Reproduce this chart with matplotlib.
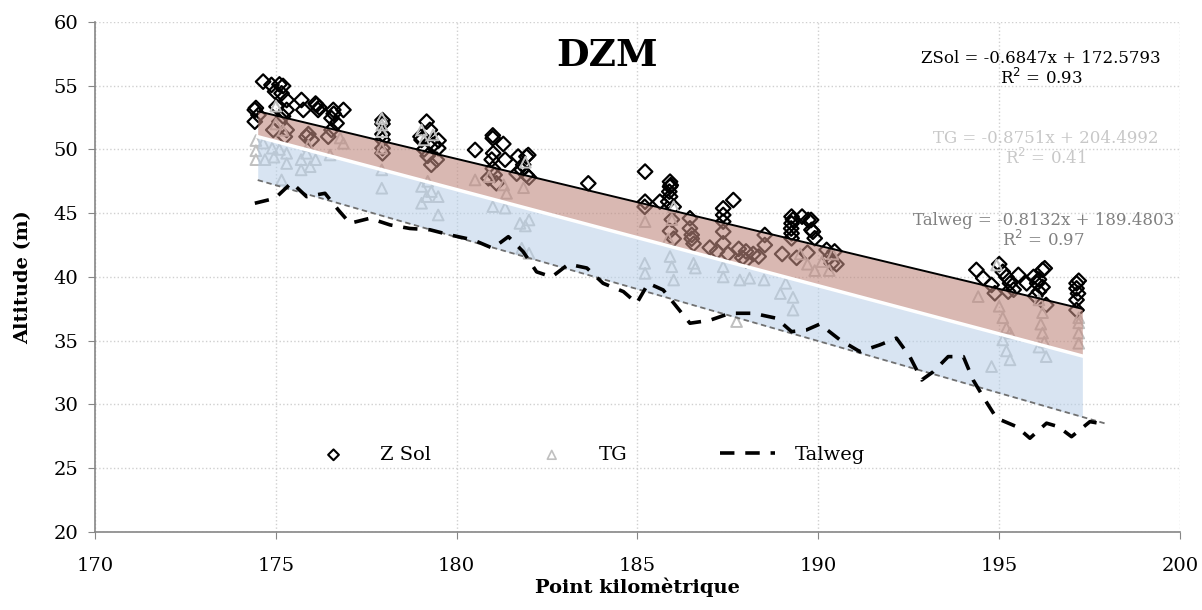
import numpy as np
import matplotlib
import matplotlib.pyplot as plt

matplotlib.use('Agg')

# Z Sol points (km, altitude)
zsol_x = [174.42, 174.52, 174.42, 174.45, 174.65, 174.88, 174.98, 175.2, 175.16, 175.1, 175.3, 175.3, 175.02, 175.1, 175.3, 174.93, 175.2, 175.25,
          175.71, 175.76, 176.13, 176.17, 176.2, 176.1, 175.85, 175.99, 175.9,
          176.59, 176.87, 176.54, 176.68, 176.45, 176.54, 176.6,
          177.95, 177.95, 177.95, 177.95, 177.95, 177.95,
          179.17, 179.26, 179.03, 179.35, 179.49, 179.45, 179.1, 179.2, 179.3, 179.0, 179.5,
          180.51, 181.0, 181.0, 181.29, 181.01, 181.34, 180.97, 181.1, 180.88, 181.0, 181.05,
          181.7, 181.93, 181.84, 181.66, 181.93, 181.98, 181.8, 182.0,
          183.64, 185.21, 185.21, 185.2,
          185.62, 185.9, 185.92, 185.9, 185.88, 185.9, 185.85, 186.0, 185.95, 185.9, 186.0,
          186.45, 186.45, 186.5, 186.5, 186.55,
          187.37, 187.37, 187.37, 187.37, 187.37, 187.65,
          187.0, 187.2, 187.5, 187.8, 188.0, 188.2, 188.35, 187.9, 188.0,
          188.52, 188.52,
          189.26, 189.26, 189.26, 189.26, 189.3, 189.25, 189.55, 189.8, 189.85, 189.9, 189.72, 189.81,
          190.23, 190.37, 190.3, 190.5, 190.45, 189.0, 189.4, 189.7,
          194.37, 194.56, 194.79, 194.88, 195.0, 195.1, 195.2, 195.3, 195.25, 195.53, 195.76, 195.4,
          195.95, 196.05, 196.1, 196.2, 196.26, 196.1, 196.2, 196.0, 196.3,
          197.14, 197.14, 197.14, 197.14, 197.2, 197.18]
zsol_y = [53.1, 52.7, 52.18, 53.25, 55.32, 55.06, 54.54, 54.98, 54.4, 55.1, 53.88, 53.1, 53.36, 52.18, 51.53, 51.53, 52.6, 51.0,
          53.88, 53.1, 53.49, 53.1, 53.3, 53.6, 51.0, 50.75, 51.2,
          53.1, 53.1, 52.45, 52.05, 51.0, 51.53, 52.8,
          52.3, 52.0, 51.2, 50.75, 50.1, 49.7,
          52.18, 51.53, 50.75, 50.35, 50.1, 49.2, 50.0, 49.5, 48.8, 51.0, 50.7,
          49.96, 50.88, 51.1, 50.43, 49.7, 49.2, 49.2, 47.35, 47.74, 48.5, 48.0,
          49.44, 49.44, 48.8, 48.1, 48.0, 49.56, 48.4, 47.8,
          47.34, 48.26, 45.9, 45.5,
          45.9, 47.47, 47.2, 47.08, 46.69, 46.3, 45.9, 45.5, 44.5, 43.6, 43.0,
          44.6, 43.81, 43.3, 43.0, 42.6,
          45.38, 44.86, 44.34, 43.55, 42.64, 46.03,
          42.3, 42.0, 41.8, 42.2, 42.0, 41.8, 41.6, 41.5, 41.3,
          43.29, 42.5,
          44.73, 44.2, 43.42, 43.03, 44.5, 43.8, 44.73, 44.47, 43.55, 43.03, 44.47, 43.69,
          42.12, 41.07, 41.5, 41.0, 42.0, 41.8, 41.5, 41.9,
          40.55, 39.9, 39.37, 38.72, 41.0, 40.4, 40.0, 39.5, 38.85, 40.16, 39.5, 39.0,
          40.0, 39.5, 38.85, 40.55, 40.68, 39.8, 39.2, 38.5, 37.8,
          39.5, 39.1, 38.2, 37.4, 39.7, 38.7]

# TG points
tg_x = [174.45, 174.45, 174.45, 174.65, 174.9, 174.95, 175.1, 175.3, 175.3, 174.7, 175.0, 175.16, 175.2, 175.0,
        175.7, 175.85, 175.95, 176.1, 175.7, 175.9,
        176.5, 176.87, 176.78,
        177.93, 177.93, 177.93, 177.93, 177.93, 177.93,
        179.03, 179.35, 179.1, 179.03, 179.17, 179.3, 179.49, 179.49, 179.03, 179.2,
        180.51, 180.9, 181.3, 181.0, 181.34, 181.38,
        181.75, 182.0, 181.9, 181.8, 182.0, 181.9, 181.85,
        185.21, 185.2, 185.21,
        185.9, 185.95, 186.0, 185.95, 186.0, 185.85,
        186.55, 186.6, 187.37, 187.37,
        187.83, 188.1, 187.74, 188.5,
        188.95, 189.3, 189.3, 189.1,
        189.5, 189.7, 189.9, 190.1, 190.3, 190.4,
        194.42, 194.93, 195.0, 195.1, 195.2, 195.3, 195.1, 195.2, 194.79, 195.3,
        196.1, 196.2, 196.15, 196.2, 196.1, 196.3, 196.25,
        197.2, 197.2, 197.2, 197.2]
tg_y = [50.7, 49.9, 49.2, 50.5, 50.1, 49.4, 50.0, 49.7, 48.9, 49.2, 53.4, 47.61, 51.5, 52.0,
        49.2, 49.7, 48.65, 49.2, 48.4, 50.3,
        49.57, 50.48, 50.9,
        52.45, 51.92, 51.4, 50.1, 48.4, 46.96,
        51.53, 51.14, 50.75, 47.1, 46.3, 46.7, 46.3, 44.86, 45.78, 47.5,
        47.61, 47.87, 47.22, 45.52, 45.4, 46.56,
        44.2, 44.47, 44.0, 42.25, 41.85, 49.0, 47.0,
        44.34, 41.07, 40.28,
        41.6, 40.8, 39.76, 44.5, 45.5, 43.0,
        41.07, 40.7, 40.8, 40.0,
        39.76, 39.9, 36.5, 39.76,
        38.7, 38.4, 37.4, 39.5,
        41.8, 41.0, 40.5, 41.2, 40.5, 41.8,
        38.46, 40.94, 37.7, 36.8, 36.0, 35.6, 35.06, 34.2, 32.97, 33.5,
        38.2, 37.2, 36.3, 35.6, 34.5, 33.75, 34.9,
        36.8, 36.4, 35.6, 34.8]

# Talweg profile
talweg_x = [174.42, 174.98, 175.44, 175.85, 176.36, 176.73, 177.05, 177.6, 178.16, 178.71, 179.26, 179.81, 180.46, 181.0,
            181.43, 181.84, 182.21, 182.63, 183.09, 183.6, 184.05, 184.61, 184.98, 185.3, 185.71, 186.08, 186.45, 187.0,
            187.56, 188.2, 188.84, 189.26, 189.67, 190.04, 190.6, 191.15, 191.7, 192.16, 192.53, 192.86, 193.18, 193.59,
            194.01, 194.28, 194.61, 194.93, 195.48, 195.85, 196.31, 196.63, 197.0, 197.51, 197.87]
talweg_y = [45.78, 46.17, 47.4, 46.3, 46.56, 45.25, 44.21, 44.6, 44.08, 43.8, 43.7, 43.3, 42.9, 42.25,
            43.16, 41.98, 40.4, 40.0, 41.0, 40.7, 39.5, 38.85, 37.94, 39.5, 38.98, 37.67, 36.37, 36.6,
            37.15, 37.15, 36.76, 35.71, 35.84, 36.3, 35.06, 34.14, 34.67, 35.2, 33.75, 31.92, 32.57, 33.75,
            33.75, 31.92, 30.35, 28.92, 28.26, 27.35, 28.53, 28.26, 27.47, 28.65, 28.47]

# trend lines / bands (end points)
fit_x = [174.5, 197.3]
zsol_fit = [53.0, 37.5]
tg_fit = [51.0, 33.8]
talweg_fit = [47.6, 29.0]
talweg_fit_x = [174.5, 198.0]
talweg_fit_y = [47.6, 28.45]

plt.rcParams['font.family'] = ['DejaVu Serif']

fig = plt.figure(figsize=(12.02, 6.10), dpi=100)
ax = fig.add_axes([0.079, 0.128, 0.9027, 0.836])

ax.scatter(zsol_x, zsol_y, marker='D', s=55, facecolors='none', edgecolors='black', linewidths=1.6, zorder=2)
ax.scatter(tg_x, tg_y, marker='^', s=60, facecolors='none', edgecolors='#c0c0c0', linewidths=1.4, zorder=2)

ax.fill_between(fit_x, zsol_fit, tg_fit, color='#c08a80', alpha=0.6, linewidth=0, zorder=3)
ax.fill_between(fit_x, tg_fit, talweg_fit, color='#b8cfe8', alpha=0.55, linewidth=0, zorder=3)
ax.plot(fit_x, zsol_fit, color='black', lw=1.4, zorder=4)
ax.plot(fit_x, tg_fit, color='white', lw=2.5, zorder=4)
ax.plot(talweg_fit_x, talweg_fit_y, color='#707070', lw=1.3, ls=(0, (3, 2)), zorder=4)
ax.plot(talweg_x, talweg_y, color='black', lw=2.6, ls=(0, (4, 3)), zorder=5)

# legend proxies
h1 = ax.scatter([], [], marker='D', s=30, facecolors='none', edgecolors='black', linewidths=1.5)
h2 = ax.scatter([], [], marker='^', s=40, facecolors='none', edgecolors='#c0c0c0', linewidths=1.2)
h3, = ax.plot([], [], color='black', lw=2.6, ls=(0, (4, 3)))
ax.legend([h1, h2, h3], ['Z Sol', 'TG', 'Talweg'], ncol=3, frameon=False, fontsize=14,
          loc='center', bbox_to_anchor=(0.452, 0.151), handlelength=2.8, handletextpad=1.0,
          columnspacing=4.8)

ax.text(0.472, 0.935, 'DZM', transform=ax.transAxes, fontsize=27, fontweight='bold', ha='center', va='center')
ax.text(0.872, 0.908, 'ZSol = -0.6847x + 172.5793\nR$^2$ = 0.93', transform=ax.transAxes, fontsize=12,
        ha='center', va='center', color='black', linespacing=1.05)
ax.text(0.876, 0.751, 'TG = -0.8751x + 204.4992\nR$^2$ = 0.41', transform=ax.transAxes, fontsize=12,
        ha='center', va='center', color='#c8c8c8', linespacing=1.05)
ax.text(0.874, 0.590, 'Talweg = -0.8132x + 189.4803\nR$^2$ = 0.97', transform=ax.transAxes, fontsize=12,
        ha='center', va='center', color='#808080', linespacing=1.05)

ax.set_xlim(170, 200)
ax.set_ylim(20, 60)
ax.set_xticks(np.arange(170, 201, 5))
ax.set_yticks(np.arange(20, 61, 5))
ax.grid(True, ls=':', color='#d0d0d0', lw=1)
ax.set_axisbelow(True)
for s in ['top', 'right']:
    ax.spines[s].set_visible(False)
for s in ['left', 'bottom']:
    ax.spines[s].set_color('#868686')
    ax.spines[s].set_linewidth(1.2)
ax.tick_params(axis='both', colors='#868686', labelcolor='black', labelsize=14, length=5, direction='out')
ax.tick_params(axis='y', pad=7)
ax.tick_params(axis='x', pad=13)
ax.set_xlabel('Point kilomètrique', fontsize=14, fontweight='bold', labelpad=2)
ax.set_ylabel('Altitude (m)', fontsize=14, fontweight='bold', labelpad=15)

plt.savefig('out.png', dpi=100)
